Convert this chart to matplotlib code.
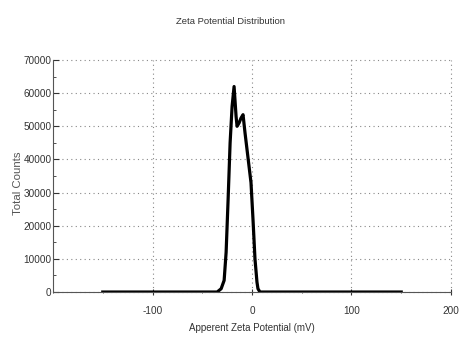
import numpy as np
import matplotlib
matplotlib.use('Agg')
from matplotlib import pyplot as plt
from matplotlib.ticker import MultipleLocator

plt.rcParams['font.family'] = ['Liberation Sans', 'DejaVu Sans']
plt.rcParams['axes.unicode_minus'] = False

# zeta potential (mV) vs total counts
zeta_mv = [-150, -35, -31, -28, -26, -24, -22, -20, -18, -16, -15, -13, -11, -9,
           -7, -5, -3, -1, 1, 3, 5, 6, 8, 150]
counts = [0, 0, 1000, 3500, 12000, 28000, 45000, 56000, 62000, 53000, 50000, 51000,
          52500, 53500, 48000, 43000, 38000, 33000, 22000, 10000, 3000, 1000, 0, 0]

x_ticks = [-100, 0, 100, 200]
y_ticks = [0, 10000, 20000, 30000, 40000, 50000, 60000, 70000]

fig = plt.figure(figsize=(4.59, 3.38), dpi=100)
ax = fig.add_axes([0.1155, 0.136, 0.867, 0.6865])

ax.plot(zeta_mv, counts, color='black', linewidth=2.3, solid_joinstyle='round')

ax.set_xlim(-200, 200)
ax.set_ylim(0, 70000)
ax.set_xticks(x_ticks)
ax.set_yticks(y_ticks)
ax.xaxis.set_minor_locator(MultipleLocator(50))
ax.yaxis.set_minor_locator(MultipleLocator(5000))
ax.tick_params(which='both', direction='in', labelsize=7.2, colors='#333333')
ax.tick_params(which='major', length=4)
ax.tick_params(which='minor', length=2)
ax.tick_params(axis='y', which='both', pad=1)
ax.tick_params(axis='x', which='both', direction='inout', pad=8)

ax.grid(True, which='major', linestyle=(0, (1, 3)), color='#888888', linewidth=0.8)
for line in ax.get_xgridlines() + ax.get_ygridlines():
    line.set_clip_on(False)
for s in ['top', 'right']:
    ax.spines[s].set_visible(False)
ax.spines['left'].set_color('#555555')
ax.spines['bottom'].set_color('#555555')

ax.set_xlabel('Apperent Zeta Potential (mV)', fontsize=7, color='#333333', labelpad=5)
ax.set_ylabel('Total Counts', fontsize=8.2, color='#555555')
ax.yaxis.set_label_coords(-0.075, 0.47)
fig.text(0.503, 0.935, 'Zeta Potential Distribution', fontsize=6.8, color='#333333',
         ha='center', va='center')

fig.savefig('out.png', dpi=100)
